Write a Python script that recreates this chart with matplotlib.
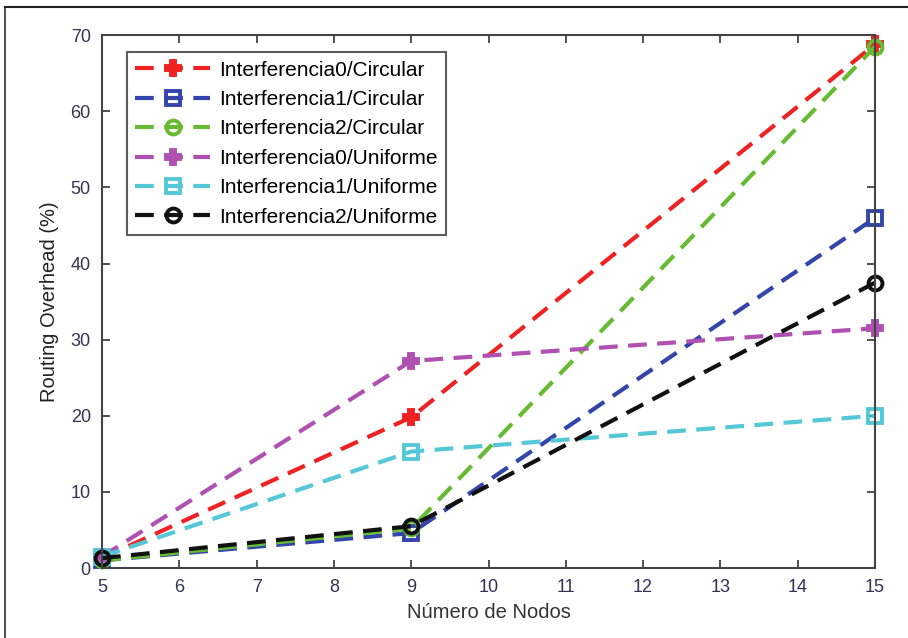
import matplotlib
matplotlib.use("Agg")
import matplotlib.pyplot as plt
from matplotlib.lines import Line2D

plt.rcParams['font.family'] = ['Liberation Sans', 'DejaVu Sans']

nodes = [5, 9, 15]
series_labels = ['Interferencia0/Circular', 'Interferencia1/Circular', 'Interferencia2/Circular',
                 'Interferencia0/Uniforme', 'Interferencia1/Uniforme', 'Interferencia2/Uniforme']
i0_circ = [1.3, 19.8, 68.8]
i1_circ = [1.0, 4.6, 46.0]
i2_circ = [1.0, 5.2, 68.5]
i0_unif = [1.5, 27.2, 31.5]
i1_unif = [1.5, 15.3, 20.0]
i2_unif = [1.3, 5.5, 37.5]
xticks = list(range(5, 16))
yticks = list(range(0, 71, 10))

colors = ['#ee2222', '#3344aa', '#66bb33', '#b050b0', '#55c8d8', '#111111']
markers = ['P', 's', 'o', 'P', 's', 'o']
facecolors = ['#ee2222', 'none', 'none', '#b050b0', 'none', 'none']
data = [i0_circ, i1_circ, i2_circ, i0_unif, i1_unif, i2_unif]

fig = plt.figure(figsize=(9.08, 6.38), dpi=100)
ax = fig.add_axes([0.1123, 0.1097, 0.8514, 0.835])

for y, c, m, fc, lab in zip(data, colors, markers, facecolors, series_labels):
    ax.plot(nodes, y, linestyle=(0, (4.5, 2.5)), color=c, linewidth=3,
            marker=m, markersize=10, markerfacecolor=fc, markeredgecolor=c,
            markeredgewidth=2.8, label=lab, clip_on=False)

ax.set_xlim(5, 15)
ax.set_ylim(0, 70)
ax.set_xticks(xticks)
ax.set_yticks(yticks)
ax.tick_params(direction='in', top=True, right=True, labelsize=13, length=6, width=1.2,
               colors='#333333', labelcolor='#333355', pad=8)
for s in ax.spines.values():
    s.set_color('#444444')
    s.set_linewidth(1.5)
ax.set_xlabel('Número de Nodos', fontsize=14.5, color='#333333', labelpad=5)
ax.set_ylabel('Routing Overhead (%)', fontsize=14.5, color='#222222', labelpad=8)

leg = ax.legend(loc='upper left', bbox_to_anchor=(0.032, 0.968), fontsize=15,
                frameon=True, fancybox=False, edgecolor='#333333', handlelength=3.6,
                borderpad=0.4, labelspacing=0.5, handletextpad=0.45, borderaxespad=0)
leg.get_frame().set_linewidth(1.5)

fig.add_artist(Line2D([0.006, 0.006], [0.0, 0.989], transform=fig.transFigure, color='#555555', lw=1.5))
fig.add_artist(Line2D([0.006, 1.0], [0.989, 0.989], transform=fig.transFigure, color='#222222', lw=1.5))

fig.savefig('out.png', dpi=100)
